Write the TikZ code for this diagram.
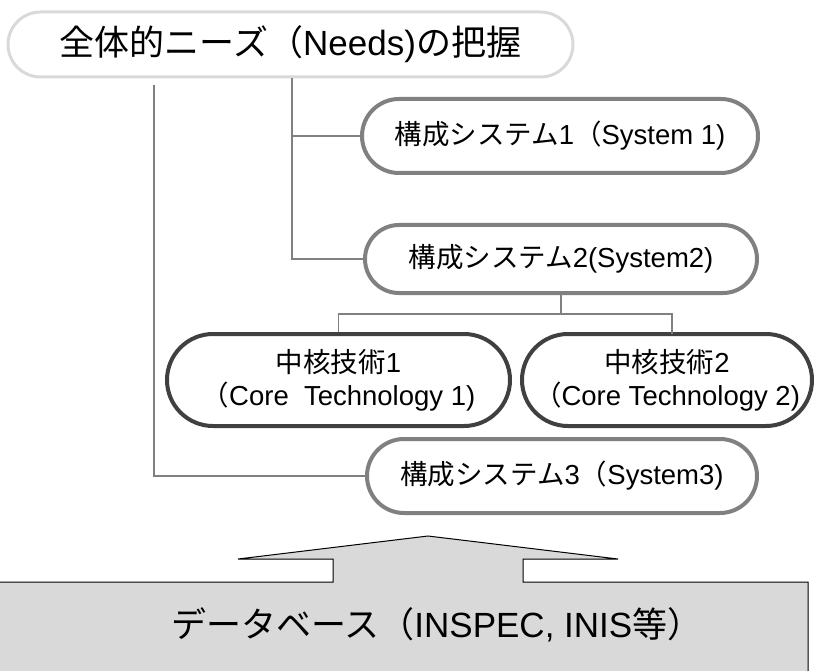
\documentclass[tikz,border=0pt]{standalone}
\usepackage{fontspec}
\setmainfont{Liberation Sans}
\newfontfamily\jpfont{Noto Sans CJK JP}
\newcommand{\jtxt}[1]{{\jpfont #1}}
\usetikzlibrary{shapes.misc}
\definecolor{paleedge}{HTML}{D9D9D9}
\definecolor{midedge}{HTML}{808080}
\definecolor{darkedge}{HTML}{404040}
\definecolor{dbfill}{HTML}{D9D9D9}
\begin{document}
\begin{tikzpicture}[x=1pt,y=-1pt,
  pill/.style={rounded rectangle, inner sep=0pt, fill=white, align=center},
  needsbox/.style={pill, draw=paleedge, line width=3pt,
    font=\fontsize{35}{40}\selectfont},
  sysbox/.style={pill, draw=midedge, line width=4pt,
    font=\fontsize{27.5}{33}\selectfont},
  corebox/.style={pill, draw=darkedge, line width=4pt,
    font=\fontsize{27.5}{33}\selectfont},
  link/.style={draw=midedge, line width=1.5pt}]
\useasboundingbox (0,0) rectangle (814,671);

% database block with the upward arrow on its top edge
\draw[fill=dbfill, line width=1pt, line join=miter]
  (-10,582) -- (333,582) -- (333,559) -- (238,559) -- (428,536)
  -- (618,559) -- (523,559) -- (523,582) -- (808,582) -- (808,690) -- (-10,690) -- cycle;
\node[anchor=west, inner sep=0pt, font=\fontsize{35}{40}\selectfont] (db) at (171,625)
  {\jtxt{データベース（}INSPEC, INIS\jtxt{等）}};

% boxes
\node[needsbox, minimum width=565, minimum height=65] (needs) at (290.5,44.5)
  {\jtxt{全体的ニーズ（}Needs)\jtxt{の把握}};
\node[sysbox, minimum width=396, minimum height=74] (sys1) at (560,136)
  {\jtxt{構成システム}1\jtxt{（}System 1)};
\node[sysbox, minimum width=392, minimum height=68] (sys2) at (561,259)
  {\jtxt{構成システム}2(System2)};
\node[corebox, minimum width=343, minimum height=92] (core1) at (338.5,380)
  {\jtxt{中核技術}1\\\jtxt{（}Core\ \ Technology 1)};
\node[corebox, minimum width=290, minimum height=92] (core2) at (667,380)
  {\jtxt{中核技術}2\\\jtxt{（}Core Technology 2)};
\node[sysbox, minimum width=390, minimum height=74] (sys3) at (562,476)
  {\jtxt{構成システム}3\jtxt{（}System3)};

% tree connectors
\coordinate (leftrail) at (154,85);
\draw[link] (leftrail) |- (sys3.west);
\coordinate (midrail) at (292,0);
\draw[link] (needs.south -| midrail) |- (sys2.west);
\draw[link] (needs.south -| midrail) |- (sys1.west);
\coordinate (bus) at (561,314);
\draw[link] (sys2.south) -- (bus);
\draw[link] (core1.north) -- (core1.north |- bus) -- (672,314) -- (672,334);
\end{tikzpicture}
\end{document}
